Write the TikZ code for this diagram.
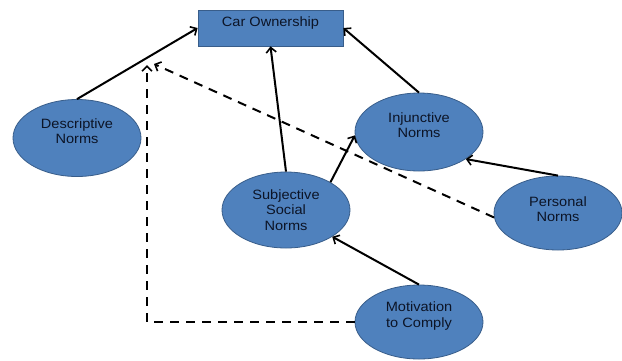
\documentclass[tikz,border=0pt]{standalone}
\usepackage{fontspec}
\setmainfont[FakeStretch=1.08]{Liberation Sans}
\usetikzlibrary{shapes.geometric,arrows.meta,calc}
\definecolor{ellfill}{HTML}{4F81BD}
\definecolor{ellborder}{HTML}{385D8A}
\definecolor{txt}{HTML}{0C1426}
\begin{document}
\begin{tikzpicture}[x=1pt,y=-1pt,
  ell/.style={ellipse,draw=ellborder,fill=ellfill,line width=0.8pt,minimum width=128pt,minimum height=77pt,inner sep=0pt},
  boxst/.style={rectangle,draw=ellborder,fill=ellfill,line width=0.8pt,minimum width=145pt,minimum height=36pt,inner sep=0pt},
  lab/.style={align=center,text=txt,font=\fontsize{13.5}{15.5}\selectfont},
  arr/.style={line width=2pt,-{Straight Barb[length=5pt,width=10pt,line width=1.6pt]}},
  darr/.style={arr,dash pattern=on 9pt off 7pt}]
\useasboundingbox (0,0) rectangle (622,360);
\fill[white] (0,0) rectangle (622,360);
\node[boxst,label={[lab,yshift=5pt]center:Car Ownership}] (car) at (270.5,28) {};
\node[ell,label={[lab,yshift=7pt]center:Descriptive\\Norms}] (desc) at (77,138) {};
\node[ell,minimum height=78pt,label={[lab,yshift=7pt]center:Injunctive\\Norms}] (inj) at (419,132) {};
\node[ell,minimum height=76pt,label={[lab,yshift=0pt]center:Subjective\\Social\\Norms}] (sub) at (286,210) {};
\node[ell,minimum height=74pt,label={[lab,yshift=4pt]center:Personal\\Norms}] (pers) at (558,213) {};
\node[ell,minimum height=74pt,label={[lab,yshift=6pt]center:Motivation\\to Comply}] (mot) at (419,322) {};
\coordinate (dtip) at (154,64);
\coordinate (vtip) at (147,65);
\draw[arr] (desc.north) -- (car.west);
\draw[arr] (sub.north) -- (car.south);
\draw[arr] (inj.north) -- (car.east);
\draw[arr] (sub.32) -- (inj.183);
\draw[arr] (pers.north) -- (inj.-30);
\draw[arr] (mot.north) -- (sub.-30);
\draw[darr] (pers.184) -- (dtip);
\draw[darr] (mot.west) -| (vtip);
\end{tikzpicture}
\end{document}
